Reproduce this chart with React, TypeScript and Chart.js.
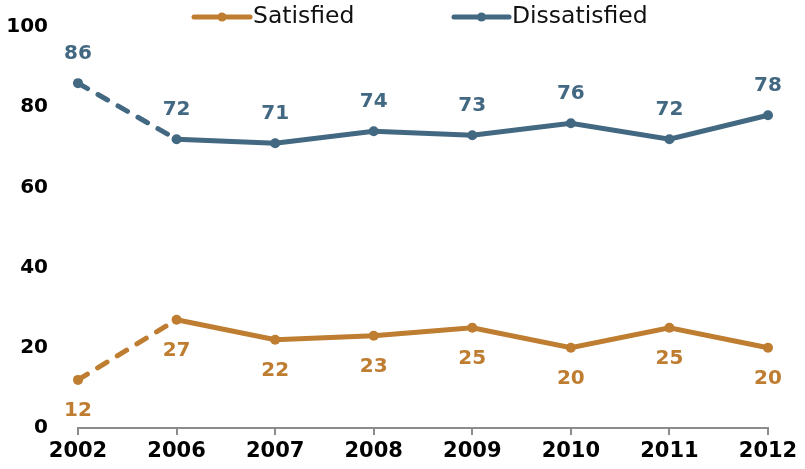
import React, { useEffect, useRef } from "react";
import { Chart, registerables } from "chart.js";

Chart.register(...registerables);

const years = ["2002", "2006", "2007", "2008", "2009", "2010", "2011", "2012"];
const satisfied = [12, 27, 22, 23, 25, 20, 25, 20];
const dissatisfied = [86, 72, 71, 74, 73, 76, 72, 78];
const yTicks = [0, 20, 40, 60, 80, 100];

const ORANGE = "rgb(190,125,48)";
const BLUE = "rgb(66,104,130)";

const labelPlugin = {
  id: "dataLabels",
  afterDatasetsDraw(chart: any) {
    const ctx = chart.ctx;
    ctx.save();
    ctx.font = "bold 20px 'DejaVu Sans'";
    ctx.textAlign = "center";
    ctx.textBaseline = "middle";
    chart.data.datasets.forEach((ds: any, i: number) => {
      const meta = chart.getDatasetMeta(i);
      ctx.fillStyle = ds.borderColor;
      meta.data.forEach((pt: any, j: number) => {
        const off = i === 0 ? 31 : -29;
        ctx.fillText(String(ds.data[j]), pt.x, pt.y + off);
      });
    });
    ctx.restore();
  },
};

const legendPlugin = {
  id: "customLegend",
  afterDraw(chart: any) {
    const ctx = chart.ctx;
    ctx.save();
    const items = [
      { label: "Satisfied", color: ORANGE, x0: 194, x1: 250 },
      { label: "Dissatisfied", color: BLUE, x0: 454, x1: 509 },
    ];
    const y = 17;
    ctx.font = "23.5px 'DejaVu Sans'";
    ctx.textBaseline = "middle";
    ctx.textAlign = "left";
    items.forEach((it) => {
      ctx.strokeStyle = it.color;
      ctx.lineWidth = 5;
      ctx.lineCap = "round";
      ctx.beginPath();
      ctx.moveTo(it.x0, y);
      ctx.lineTo(it.x1, y);
      ctx.stroke();
      ctx.fillStyle = it.color;
      ctx.beginPath();
      ctx.arc((it.x0 + it.x1) / 2, y, 4.5, 0, Math.PI * 2);
      ctx.fill();
      ctx.fillStyle = "#111";
      ctx.fillText(it.label, it.x1 + 3, y);
    });
    ctx.restore();
  },
};

export default function App() {
  const ref = useRef<HTMLCanvasElement>(null);
  useEffect(() => {
    if (!ref.current) return;
    const dash = (ctx: any) => (ctx.p0DataIndex === 0 ? [11, 12] : undefined);
    const chart = new Chart(ref.current, {
      type: "line",
      data: {
        labels: years,
        datasets: [
          {
            label: "Satisfied",
            data: satisfied,
            borderColor: ORANGE,
            backgroundColor: ORANGE,
            borderWidth: 5,
            pointRadius: 5,
            pointBorderWidth: 0,
            borderCapStyle: "round",
            tension: 0,
            segment: { borderDash: dash },
          },
          {
            label: "Dissatisfied",
            data: dissatisfied,
            borderColor: BLUE,
            backgroundColor: BLUE,
            borderWidth: 5,
            pointRadius: 5,
            pointBorderWidth: 0,
            borderCapStyle: "round",
            tension: 0,
            segment: { borderDash: dash },
          },
        ],
      },
      options: {
        animation: false,
        responsive: false,
        layout: { padding: { top: 27, right: 37, left: 0, bottom: 0 } },
        plugins: { legend: { display: false }, tooltip: { enabled: false } },
        scales: {
          x: {
            offset: false,
            grid: {
              display: true,
              drawOnChartArea: false,
              drawTicks: true,
              tickLength: 7,
              color: "#8c8c8c",
              lineWidth: 2,
            },
            border: { display: true, color: "#8c8c8c", width: 2 },
            ticks: {
              color: "#000",
              font: { family: "'DejaVu Sans'", size: 21, weight: "bold" },
              padding: 4,
              maxRotation: 0,
            },
            afterFit: (s: any) => {
              s.height = 41;
              s.paddingLeft = 0;
              s.paddingRight = 0;
            },
          },
          y: {
            min: 0,
            max: 100,
            grid: { display: false },
            border: { display: false },
            afterBuildTicks: (s: any) => {
              s.ticks = yTicks.map((v) => ({ value: v }));
            },
            ticks: {
              color: "#000",
              font: { family: "'DejaVu Sans'", size: 20, weight: "bold" },
              padding: 22,
            },
            afterFit: (s: any) => {
              s.width = 78;
              s.paddingTop = 0;
              s.paddingBottom = 0;
            },
          },
        },
      },
      plugins: [labelPlugin, legendPlugin],
    });
    return () => chart.destroy();
  }, []);
  return (
    <div style={{ position: "absolute", left: 0, top: 0, width: 805, height: 469, background: "#fff" }}>
      <canvas ref={ref} width={805} height={469} style={{ width: 805, height: 469 }} />
    </div>
  );
}
